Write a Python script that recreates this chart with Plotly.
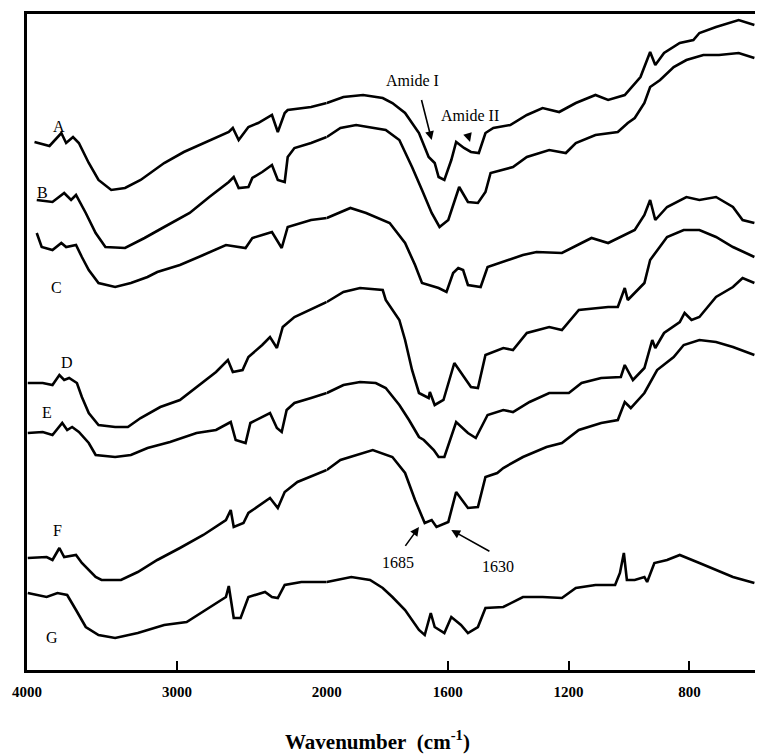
import plotly.graph_objects as go

# Wavenumbers (cm-1) and relative transmittance (arbitrary units, stacked)
A_wn = [3950, 3850, 3771, 3739, 3693, 3654, 3588, 3523, 3438, 3346, 3242, 3085, 2954, 2824, 2654, 2627, 2588, 2523, 2458, 2366, 2327, 2281, 2261, 2105, 2000,
        1945, 1880, 1815, 1783, 1741, 1695, 1663, 1643, 1630, 1611, 1588, 1572, 1546, 1523, 1497, 1475, 1449, 1393, 1338, 1286, 1231, 1176, 1111, 1069, 1014, 962, 930, 913, 884, 832, 787, 767, 712, 637, 585]
A_val = [528, 524, 537, 527, 533, 527, 507, 490, 480, 482, 490, 507, 518, 527, 538, 542, 530, 543, 547, 555, 538, 557, 560, 563, 567,
         573, 575, 572, 567, 557, 537, 513, 507, 493, 490, 510, 528, 522, 518, 517, 537, 542, 545, 555, 562, 558, 567, 575, 570, 575, 593, 618, 605, 617, 627, 630, 637, 643, 650, 645]

B_wn = [3935, 3830, 3752, 3706, 3673, 3608, 3542, 3477, 3346, 3216, 3085, 2915, 2784, 2654, 2621, 2588, 2523, 2497, 2431, 2366, 2327, 2281, 2261, 2216, 2105, 2000,
        1955, 1903, 1848, 1805, 1760, 1718, 1685, 1653, 1627, 1598, 1562, 1533, 1500, 1475, 1458, 1384, 1338, 1264, 1209, 1176, 1111, 1037, 1004, 981, 949, 930, 897, 852, 810, 754, 702, 637, 585]
B_val = [470, 468, 477, 470, 475, 457, 437, 423, 422, 432, 443, 457, 473, 488, 493, 482, 483, 492, 498, 505, 490, 488, 513, 522, 527, 533,
         542, 545, 542, 540, 530, 503, 480, 457, 443, 450, 483, 468, 467, 478, 497, 503, 513, 520, 517, 527, 535, 538, 547, 552, 567, 583, 590, 603, 610, 615, 615, 617, 612]

C_wn = [3935, 3902, 3830, 3771, 3739, 3673, 3634, 3588, 3523, 3412, 3307, 3196, 3131, 2980, 2824, 2673, 2542, 2497, 2431, 2366, 2301, 2261, 2105, 2000,
        1922, 1870, 1815, 1792, 1741, 1708, 1685, 1630, 1604, 1582, 1565, 1549, 1533, 1491, 1468, 1416, 1351, 1306, 1222, 1157, 1124, 1069, 1014, 981, 949, 930, 913, 874, 810, 767, 712, 656, 624, 585]
C_val = [437, 423, 420, 427, 423, 425, 413, 400, 387, 383, 387, 393, 398, 405, 415, 425, 422, 432, 435, 438, 422, 443, 450, 452,
         462, 457, 450, 447, 427, 405, 387, 382, 378, 397, 402, 400, 385, 383, 403, 408, 415, 418, 417, 427, 432, 427, 435, 440, 455, 470, 450, 463, 473, 470, 473, 463, 450, 447]

D_wn = [3995, 3895, 3830, 3784, 3752, 3719, 3667, 3634, 3588, 3523, 3412, 3327, 3242, 3111, 2980, 2869, 2739, 2660, 2627, 2562, 2523, 2431, 2379, 2333, 2294, 2216, 2085, 2000,
        1945, 1890, 1815, 1805, 1760, 1741, 1718, 1695, 1663, 1659, 1643, 1614, 1578, 1546, 1523, 1500, 1475, 1416, 1384, 1338, 1264, 1222, 1166, 1069, 1037, 1014, 1004, 949, 930, 874, 819, 767, 712, 656, 585]
D_val = [287, 287, 285, 295, 290, 292, 287, 273, 257, 245, 243, 243, 252, 263, 270, 283, 298, 310, 298, 300, 313, 325, 333, 322, 343, 353, 362, 368,
         378, 382, 380, 370, 350, 330, 300, 277, 272, 278, 265, 270, 307, 293, 283, 282, 315, 322, 320, 337, 343, 340, 360, 363, 363, 382, 370, 387, 410, 433, 440, 440, 433, 423, 413]

E_wn = [3995, 3895, 3830, 3765, 3732, 3699, 3654, 3588, 3542, 3412, 3307, 3196, 3046, 2869, 2739, 2641, 2608, 2542, 2510, 2431, 2379, 2333, 2301, 2268, 2216, 2105, 2000,
        1945, 1890, 1838, 1805, 1760, 1728, 1695, 1679, 1646, 1630, 1611, 1572, 1533, 1507, 1468, 1416, 1384, 1329, 1264, 1199, 1157, 1092, 1027, 1014, 987, 949, 923, 913, 884, 832, 816, 793, 767, 712, 656, 624, 585]
E_val = [237, 238, 235, 247, 240, 243, 238, 227, 215, 213, 215, 222, 228, 237, 240, 248, 230, 227, 247, 253, 257, 242, 238, 260, 267, 272, 277,
         285, 288, 287, 282, 265, 250, 233, 230, 220, 213, 213, 248, 237, 232, 255, 260, 258, 268, 277, 277, 287, 292, 293, 305, 290, 302, 330, 322, 337, 348, 357, 350, 353, 373, 383, 392, 387]

F_wn = [3995, 3869, 3830, 3784, 3752, 3673, 3634, 3542, 3503, 3373, 3261, 3131, 2980, 2824, 2673, 2641, 2621, 2556, 2523, 2431, 2379, 2327, 2281, 2196, 2039, 2000,
        1955, 1848, 1783, 1741, 1708, 1676, 1653, 1637, 1598, 1572, 1533, 1500, 1475, 1436, 1416, 1351, 1273, 1222, 1166, 1092, 1037, 1014, 994, 949, 907, 852, 819, 767, 712, 656, 585]
F_val = [112, 113, 110, 122, 113, 115, 107, 93, 90, 90, 98, 110, 122, 135, 150, 160, 143, 147, 157, 167, 172, 162, 178, 188, 197, 200,
         210, 220, 213, 197, 170, 147, 150, 143, 148, 178, 162, 163, 193, 197, 202, 213, 223, 227, 240, 247, 250, 268, 262, 277, 300, 313, 325, 330, 328, 323, 315]

G_wn = [3995, 3869, 3797, 3732, 3673, 3608, 3523, 3412, 3261, 3085, 2935, 2784, 2673, 2654, 2621, 2575, 2523, 2412, 2366, 2327, 2281, 2170, 2000,
        1919, 1857, 1815, 1783, 1741, 1695, 1676, 1656, 1643, 1611, 1588, 1556, 1533, 1500, 1475, 1416, 1351, 1286, 1222, 1176, 1111, 1046, 1030, 1017, 1007, 981, 949, 940, 916, 874, 832, 767, 712, 656, 585]
G_val = [77, 73, 77, 75, 60, 43, 35, 32, 37, 45, 48, 62, 73, 84, 52, 52, 73, 78, 73, 72, 85, 88, 88,
         93, 90, 82, 73, 60, 40, 35, 57, 43, 37, 53, 45, 37, 43, 62, 63, 73, 73, 72, 82, 85, 85, 97, 117, 90, 90, 93, 88, 107, 110, 115, 107, 100, 93, 87]

series = {"A": (A_wn, A_val), "B": (B_wn, B_val), "C": (C_wn, C_val), "D": (D_wn, D_val),
          "E": (E_wn, E_val), "F": (F_wn, F_val), "G": (G_wn, G_val)}

# label positions (wavenumber, value)
label_pos = {"A": (3784, 544), "B": (3895, 478), "C": (3804, 383), "D": (3732, 308),
             "E": (3869, 258), "F": (3797, 140), "G": (3830, 33)}

BREAK = 2000
LEFT_TICKS = [4000, 3000, 2000]
RIGHT_TICKS = [1600, 1200, 800]

fig = go.Figure()
line = dict(color="black", width=2.6)
for name, (wn, val) in series.items():
    lw = [w for w in wn if w >= BREAK]
    lv = [v for w, v in zip(wn, val) if w >= BREAK]
    rw = [w for w in wn if w <= BREAK]
    rv = [v for w, v in zip(wn, val) if w <= BREAK]
    fig.add_trace(go.Scatter(x=lw, y=lv, mode="lines", line=line, xaxis="x", yaxis="y",
                             showlegend=False, hoverinfo="skip"))
    fig.add_trace(go.Scatter(x=rw, y=rv, mode="lines", line=line, xaxis="x2", yaxis="y",
                             showlegend=False, hoverinfo="skip"))

serif = "Liberation Serif, Times New Roman, serif"
ann = []
for name, (x, y) in label_pos.items():
    ann.append(dict(x=x, y=y, xref="x", yref="y", text=name, showarrow=False,
                    font=dict(family=serif, size=16, color="black")))

txt = [("Amide I", 1718, 590), ("Amide II", 1526, 555), ("1685", 1763, 108), ("1630", 1432, 104)]
for t, x, y in txt:
    ann.append(dict(x=x, y=y, xref="x2", yref="y", text=t, showarrow=False,
                    font=dict(family=serif, size=16, color="black")))

arrows = [((1695, 580), (1653, 530)), ((1543, 545), (1526, 528)),
          ((1750, 120), (1695, 143)), ((1452, 117), (1588, 140))]
for (tx, ty), (hx, hy) in arrows:
    ann.append(dict(x=hx, y=hy, ax=tx, ay=ty, xref="x2", yref="y", axref="x2", ayref="y",
                    text=" ", showarrow=True, arrowhead=2, arrowsize=1.1, arrowwidth=1.6,
                    arrowcolor="black", standoff=0, startstandoff=0))

ann.append(dict(x=0.482, y=-0.108, xref="paper", yref="paper",
                text="<b>Wavenumber\u00a0\u00a0(cm<sup>-1</sup>)</b>", showarrow=False,
                font=dict(family=serif, size=21, color="black"), yanchor="middle"))

frac = 306 / 743
axis_common = dict(showline=True, linecolor="black", linewidth=2.5, mirror=True,
                   ticks="inside", ticklen=9, tickwidth=2, tickcolor="black",
                   showgrid=False, zeroline=False, ticklabelstandoff=6,
                   tickfont=dict(family=serif, size=15, color="black", weight="bold"))

fig.update_layout(
    width=770, height=755, autosize=False,
    margin=dict(l=27, r=0, t=14, b=85),
    paper_bgcolor="white", plot_bgcolor="white",
    xaxis=dict(domain=[0, frac], range=[4000, 2000], tickvals=LEFT_TICKS,
               ticktext=[str(t) for t in LEFT_TICKS], anchor="y", **axis_common),
    xaxis2=dict(domain=[frac, 1], range=[2000, 583], tickvals=RIGHT_TICKS,
                ticktext=[str(t) for t in RIGHT_TICKS], anchor="y", **axis_common),
    yaxis=dict(range=[0, 656], showline=True, linecolor="black", linewidth=2.5,
               showticklabels=False, ticks="", showgrid=False, zeroline=False),
    annotations=ann,
)

fig.write_html("out.html", config={"displayModeBar": False, "responsive": False},
               post_script="document.body.style.margin='0';document.body.style.overflow='hidden';")
